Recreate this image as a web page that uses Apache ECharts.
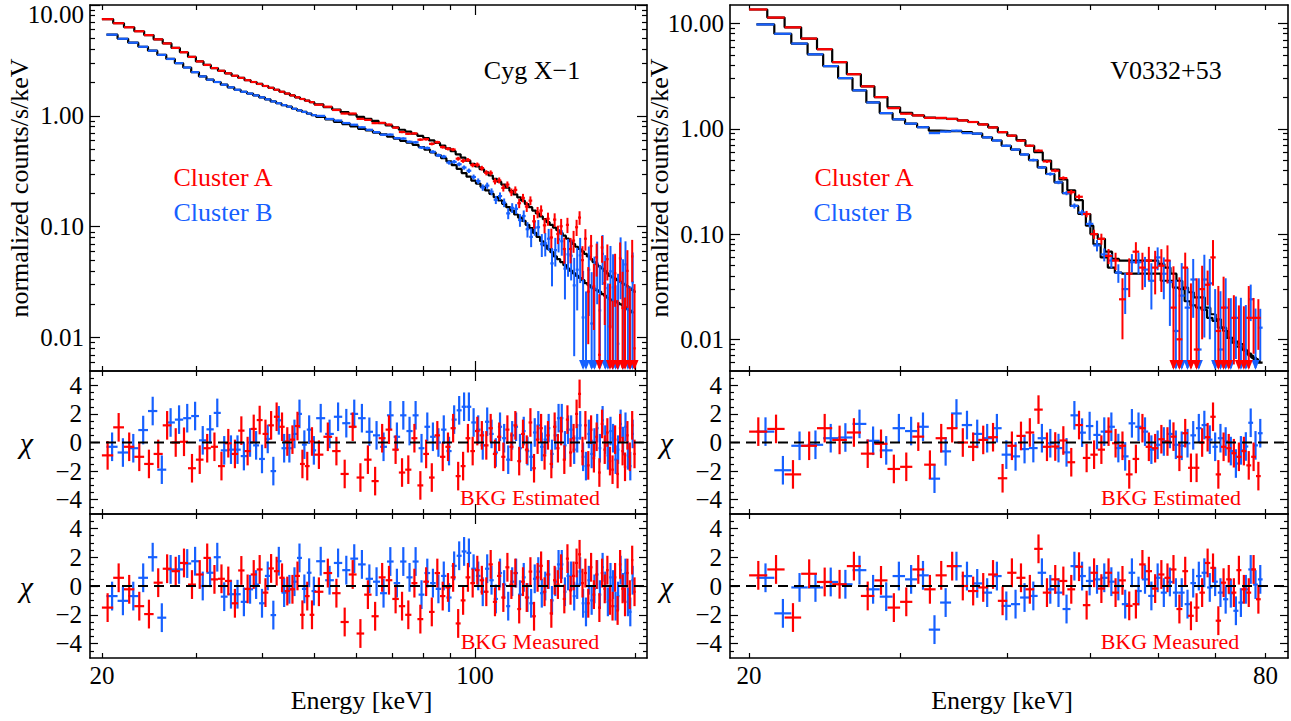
<!DOCTYPE html>
<html><head><meta charset="utf-8">
<script src="https://cdn.jsdelivr.net/npm/echarts@6/dist/echarts.min.js"></script>
<style>html,body{margin:0;padding:0;background:#fff}#c{width:1291px;height:721px}</style>
</head><body><div id="c"></div>
<script>
// ---------------- Cyg X-1 (left column) ----------------
const cygEdgesA = [20,21,22,23,24,25,26,27,28,29,30,31,32,33,34,35,36,37,38,39,40,41,42,43,44,45,46,47,48,49,50,52,54,56,58,60,62,64,66,68,70,72,74,76,78,80,82,84,86,88,90,92,94,96,98,100,102,104,106,108,110,112,114,116,118,120,122,124,126,128,130,132,134,136,138,140,142,144,146,148,150,152,154,156,158,160,162,164,166,168,170,172,174,176,178,180,182,184,186,188,190,192,194,196,198,200];
const cygEdgesB = [20.4,21.4,22.4,23.4,24.4,25.4,26.4,27.4,28.4,29.4,30.4,31.4,32.4,33.4,34.4,35.4,36.4,37.4,38.4,39.4,40.4,41.4,42.4,43.4,44.4,45.4,46.4,47.4,48.4,49.4,50.4,52.4,54.4,56.4,58.4,60.4,62.4,64.4,66.4,68.4,70.4,72.4,74.4,76.4,78.4,80.4,82.4,84.4,86.4,88.4,90.4,92.4,94.4,96.4,98.4,100.4,102.4,104.4,106.4,108.4,110.4,112.4,114.4,116.4,118.4,120.4,122.4,124.4,126.4,128.4,130.4,132.4,134.4,136.4,138.4,140.4,142.4,144.4,146.4,148.4,150.4,152.4,154.4,156.4,158.4,160.4,162.4,164.4,166.4,168.4,170.4,172.4,174.4,176.4,178.4,180.4,182.4,184.4,186.4,188.4,190.4,192.4,194.4,196.4,198.4];
const cygModelA = [7.45,6.85,6.3,5.8,5.35,4.9,4.5,4.1,3.75,3.4,3.1,2.88,2.7,2.55,2.42,2.3,2.2,2.1,2.02,1.94,1.86,1.79,1.72,1.65,1.59,1.53,1.47,1.42,1.37,1.33,
1.27,1.2,1.14,1.08,1.03,0.98,0.94,0.9,0.86,0.82,0.79,0.75,0.72,0.69,0.66,0.63,0.6,0.57,0.54,0.51,0.48,0.45,0.42,0.395,0.37,0.35,0.33,0.31,0.29,0.27,0.255,0.24,0.225,0.21,0.196,0.184,0.172,0.16,0.15,0.14,0.132,0.124,0.117,0.11,0.104,0.098,0.093,0.088,0.083,0.078,0.074,0.07,0.066,0.063,0.06,0.057,0.054,0.051,0.048,0.046,0.044,0.042,0.04,0.038,0.036,0.035,0.034,0.033,0.032,0.031,0.03,0.029,0.028,0.027,0.026];
const cygDataA = [7.45,6.85,6.3,5.8,5.35,4.9,4.5,4.1,3.75,3.4,3.1,2.88,2.7,2.55,2.42,2.3,2.2,2.1,2.02,1.94,1.86,1.79,1.72,1.65,1.59,1.53,1.47,1.42,1.37,1.33,
1.26,1.21,1.13,1.05,1.05,0.94,0.92,0.86,0.865,0.835,0.782,0.715,0.689,0.695,0.61,0.616,0.559,0.579,0.523,0.505,0.497,0.411,0.393,0.4,0.36,0.363,0.338,0.307,0.306,0.257,0.262,0.224,0.24,0.205,0.215,0.163,0.182,0.152,0.172,0.112,0.135,0.14,0.103,0.118,0.08,0.116,0.086,0.101,0.063,0.104,0.063,0.075,0.099,0.121,0.05,0.078,0.026,0.067,0.029,0.053,0.007,0.065,0.031,0.051,0.0126,0.003,0.038,0.002,0.052,0.0185,0.002,0.04,0.006,0.054,0.008];
const cygErrA = [0.004,0.004,0.004,0.004,0.004,0.004,0.004,0.004,0.004,0.004,0.005,0.005,0.005,0.005,0.005,0.005,0.005,0.005,0.005,0.005,0.007,0.007,0.007,0.007,0.007,0.007,0.007,0.007,0.007,0.007,
0.012,0.013,0.013,0.014,0.015,0.016,0.017,0.018,0.019,0.02,0.021,0.022,0.023,0.024,0.025,0.027,0.028,0.03,0.031,0.033,0.035,0.037,0.039,0.041,0.044,0.047,0.05,0.053,0.056,0.06,0.064,0.068,0.072,0.077,0.082,0.087,0.093,0.1,0.106,0.113,0.12,0.128,0.136,0.145,0.155,0.165,0.175,0.19,0.2,0.21,0.22,0.24,0.25,0.27,0.28,0.3,0.32,0.34,0.36,0.38,0.4,0.42,0.45,0.48,0.5,0.53,0.56,0.6,0.63,0.67,0.7,0.74,0.78,0.82,0.86];
const cygModelB = [5.4,4.96,4.57,4.2,3.87,3.55,3.26,2.99,2.73,2.48,2.27,2.12,2.02,1.91,1.81,1.72,1.65,1.59,1.53,1.47,1.41,1.35,1.3,1.25,1.21,1.16,1.12,1.085,1.05,1.015,
0.977,0.93,0.883,0.843,0.803,0.764,0.738,0.706,0.68,0.65,0.624,0.596,0.572,0.548,0.524,0.496,0.468,0.441,0.415,0.388,0.36,0.332,0.305,0.283,0.261,0.245,0.229,0.213,0.198,0.185,0.173,0.161,0.15,0.14,0.129,0.121,0.113,0.104,0.097,0.088,0.081,0.074,0.068,0.063,0.059,0.054,0.051,0.048,0.045,0.042,0.04,0.038,0.036,0.0345,0.033,0.031,0.0298,0.0284,0.0276,0.0267,0.0259,0.0247,0.0238,0.0229,0.022,0.0216,0.0212,0.0206,0.02,0.0194,0.0188,0.0181,0.0175,0.0169];
const cygDataB = [5.4,4.96,4.57,4.2,3.87,3.55,3.26,2.99,2.73,2.48,2.27,2.12,2.02,1.91,1.81,1.72,1.65,1.59,1.53,1.47,1.41,1.35,1.3,1.25,1.21,1.16,1.12,1.085,1.05,1.015,
1.0,0.938,0.908,0.862,0.832,0.789,0.749,0.713,0.676,0.678,0.63,0.625,0.584,0.578,0.518,0.513,0.474,0.441,0.429,0.379,0.385,0.366,0.342,0.32,0.281,0.258,0.226,0.235,0.207,0.175,0.189,0.165,0.132,0.148,0.145,0.115,0.125,0.095,0.081,0.098,0.099,0.0696,0.071,0.078,0.0467,0.0616,0.077,0.074,0.0419,0.0564,0.0548,0.0296,0.041,0.0552,0.0152,0.0013,0.041,0.0134,0.0276,0.0467,0.0176,0.057,0.028,0.0033,0.0396,0.0284,0.001,0.0088,0.0512,0.0218,0.0457,0.001,0.001,0.0316];
const cygErrB = [0.005,0.005,0.005,0.005,0.005,0.005,0.005,0.005,0.005,0.005,0.006,0.006,0.006,0.006,0.006,0.006,0.006,0.006,0.006,0.006,0.008,0.008,0.008,0.008,0.008,0.008,0.008,0.008,0.008,0.008,
0.014,0.015,0.016,0.017,0.018,0.019,0.02,0.021,0.022,0.023,0.025,0.026,0.027,0.029,0.03,0.032,0.034,0.036,0.038,0.04,0.043,0.046,0.049,0.052,0.056,0.06,0.065,0.07,0.075,0.08,0.086,0.092,0.1,0.108,0.116,0.125,0.135,0.145,0.16,0.17,0.2,0.22,0.25,0.28,0.3,0.33,0.36,0.4,0.44,0.5,0.55,0.6,0.65,0.7,0.75,0.8,0.85,0.9,0.95,1.0,1.05,1.1,1.15,1.2,1.25,1.3,1.35,1.4,1.45,1.5,1.5,1.55,1.6,1.6];
const cygChiEstA = [-0.9,1.06,-0.3,-1.0,-1.5,-0.8,1.2,0.0,0.05,-1.8,-1.2,-0.4,-0.3,-1.65,-0.05,-0.8,0.83,-0.6,0.95,1.57,0.6,1.2,1.8,1.1,0.07,0.2,1.15,-1.5,-1.65,0.07,
-0.85,0.4,-0.6,-2.2,1.1,-2.45,-1.2,-2.7,0.3,0.9,-0.5,-2.1,-1.9,0.3,-3.0,-0.8,-2.45,0.5,-1.0,-0.3,1.0,-2.35,-1.65,0.3,-0.6,0.8,0.5,-0.2,1.0,-0.8,0.4,-1.0,0.9,-0.3,1.2,-1.3,0.6,-0.5,1.4,-1.8,0.2,1.0,-0.9,0.5,-1.5,1.1,-0.4,0.8,-1.2,1.6,-0.7,0.3,2.0,3.4,-0.6,1.2,-1.6,0.9,-1.1,0.4,-2.1,1.3,-0.5,0.7,-1.3,-1.9,0.2,-2.2,1.0,-0.6,-1.7,0.5,-1.0,1.2,-0.8];
const cygChiMeasA = [-1.5,0.57,-0.23,-1.4,-1.95,0.23,1.2,1.03,1.6,0.1,0.8,1.95,0.46,0.5,0.35,-1.2,1.08,-0.2,0.8,1.15,-0.46,1.22,1.03,0.57,-0.35,-0.23,0.7,-2.0,-0.7,-2.0,
-0.4,0.9,-0.5,-2.5,0.8,-3.3,-0.6,-2.1,0.6,0.4,-0.9,-1.4,-2.0,0.2,-2.3,0.3,-1.8,0.9,-0.7,-0.1,0.6,-2.6,-1.0,0.6,0.2,1.1,0.4,-0.4,1.5,-1.1,0.7,-0.8,1.3,0.1,0.9,-1.6,0.3,-0.8,1.0,-2.1,0.6,1.4,-0.4,0.8,-1.9,0.4,0.1,1.2,-0.9,1.9,-0.3,0.7,1.6,2.2,0.2,0.9,-1.2,1.3,-0.6,0.8,-1.5,0.9,-0.2,1.1,-1.0,-1.4,0.6,-1.7,1.5,-0.2,-1.1,0.9,-0.6,1.8,-0.4];
const cygChiEstB = [-0.3,-0.7,-0.4,0.87,2.2,-1.9,1.4,1.6,1.7,1.85,0.15,0.92,2.07,-0.55,-0.5,-0.5,-0.95,0.0,-0.2,-1.15,0.25,-2.0,1.55,-0.4,-0.4,0.6,2.0,-0.15,0.9,-0.55,
1.7,0.6,1.8,1.35,2.0,1.7,0.75,0.5,-0.3,1.9,0.4,1.9,0.8,1.9,-0.4,1.1,0.4,0.0,0.9,-0.6,1.6,2.25,2.5,2.5,1.4,0.9,-0.2,1.45,0.6,-0.7,1.1,0.3,-1.2,0.5,1.1,-0.4,0.8,-0.6,-1.0,0.7,1.2,-0.3,0.2,1.0,-0.8,0.5,1.7,1.7,-0.2,0.9,0.9,-0.5,0.3,1.2,-1.0,-1.65,0.6,-0.8,0.0,1.0,-0.4,1.55,0.2,-0.9,0.8,0.3,-1.2,-0.5,1.3,0.1,1.1,-0.9,-1.65,0.6];
const cygChiMeasB = [-0.7,-1.03,-0.7,0.57,2.0,-2.2,1.15,1.15,1.56,1.72,0.0,0.92,2.0,-0.74,-0.57,-0.57,-1.1,-0.23,0.1,-1.2,0.7,-2.02,1.72,-0.46,-0.23,0.3,1.95,-0.2,0.92,-0.35,
1.72,0.4,1.6,1.1,1.9,1.5,0.5,0.3,-0.5,1.7,0.2,1.7,0.6,1.7,-0.6,0.9,0.2,-0.2,0.7,-0.8,1.4,2.1,2.4,2.3,1.2,0.7,-0.4,1.2,0.4,-0.9,0.9,0.1,-1.4,0.3,0.9,-0.6,0.6,-0.8,-1.2,0.5,1.0,-0.5,0.0,0.8,-1.0,0.3,1.5,1.5,-0.4,0.7,0.7,-0.7,0.1,1.0,-1.2,-1.8,0.4,-1.0,-0.2,0.8,-0.6,1.3,0.0,-1.1,0.6,0.1,-1.4,-0.7,1.1,-0.1,0.9,-1.1,-1.8,0.4];

// ---------------- V0332+53 (right column) ----------------
const v03EdgesA = [20,21,22,23,24,25,26,27,28,29,30,31,32,33,34,35,36,37,38,39,40,41,42,43,44,45,46,47,48,49,50,51,52,53,54,55,56,57,58,59,60,61,62,63,64,65,66,67,68,69,70,71,72,73,74,75,76,77,78,79];
const v03EdgesB = [20.4,21.4,22.4,23.4,24.4,25.4,26.4,27.4,28.4,29.4,30.4,31.4,32.4,33.4,34.4,35.4,36.4,37.4,38.4,39.4,40.4,41.4,42.4,43.4,44.4,45.4,46.4,47.4,48.4,49.4,50.4,51.4,52.4,53.4,54.4,55.4,56.4,57.4,58.4,59.4,60.4,61.4,62.4,63.4,64.4,65.4,66.4,67.4,68.4,69.4,70.4,71.4,72.4,73.4,74.4,75.4,76.4,77.4,78.4,79.4];
const v03ModelA = [13.6,11.4,9.2,7.2,5.7,4.3,3.3,2.53,2.0,1.6,1.42,1.34,1.28,1.26,1.24,1.2,1.16,1.1,1.03,0.93,0.86,0.78,0.69,0.6,0.5,0.41,0.33,0.26,0.21,0.155,0.1,0.09,0.068,0.058,0.056,0.056,0.056,0.056,0.056,0.056,0.052,0.048,0.042,0.036,0.031,0.028,0.025,0.025,0.02,0.0173,0.0155,0.0129,0.0103,0.0093,0.0085,0.008,0.0073,0.0067,0.0062];
const v03DataA = [13.6,11.4,9.2,7.2,5.7,4.3,3.3,2.53,2.0,1.57,1.39,1.34,1.27,1.27,1.24,1.2,1.16,1.1,1.03,0.93,0.86,0.77,0.69,0.62,0.49,0.4,0.34,0.25,0.226,0.155,0.1,0.09,0.062,0.056,0.024,0.042,0.068,0.048,0.056,0.048,0.05,0.056,0.02,0.01,0.048,0.006,0.008,0.03,0.033,0.06,0.012,0.02,0.004,0.016,0.004,0.003,0.016,0.016,0.016];
const v03ErrA = [0.008,0.008,0.009,0.009,0.01,0.01,0.011,0.012,0.013,0.014,0.015,0.015,0.016,0.016,0.017,0.017,0.018,0.019,0.02,0.021,0.022,0.024,0.026,0.028,0.031,0.035,0.04,0.048,0.055,0.07,0.1,0.12,0.15,0.18,0.25,0.3,0.28,0.33,0.35,0.38,0.42,0.46,0.7,0.8,0.6,1.0,1.2,0.8,0.6,1.6,1.3,1.5,2.0,1.1,2.0,2.2,2.2,1.3,1.3];
const v03ModelB = [9.8,8.0,6.45,5.1,3.94,3.03,2.32,1.78,1.41,1.23,1.12,1.035,0.96,0.95,0.95,0.93,0.9,0.83,0.774,0.69,0.635,0.57,0.505,0.43,0.372,0.31,0.245,0.185,0.155,0.12,0.08,0.06,0.048,0.043,0.042,0.042,0.042,0.042,0.042,0.042,0.036,0.036,0.031,0.03,0.023,0.021,0.02,0.019,0.016,0.015,0.0129,0.012,0.0103,0.0095,0.009,0.0078,0.007,0.0065,0.006];
const v03DataB = [9.8,8.0,6.45,5.1,3.94,3.03,2.32,1.78,1.41,1.23,1.12,1.035,0.91,0.94,0.96,0.91,0.9,0.83,0.774,0.69,0.635,0.57,0.505,0.43,0.372,0.31,0.245,0.185,0.16,0.125,0.078,0.064,0.056,0.043,0.03,0.054,0.054,0.046,0.036,0.06,0.042,0.035,0.012,0.026,0.02,0.037,0.008,0.037,0.034,0.006,0.008,0.02,0.004,0.016,0.005,0.004,0.024,0.004,0.0129];
const v03ErrB = [0.01,0.01,0.011,0.011,0.012,0.013,0.014,0.015,0.016,0.017,0.018,0.018,0.019,0.019,0.02,0.02,0.021,0.022,0.023,0.025,0.026,0.028,0.03,0.033,0.036,0.04,0.046,0.055,0.065,0.08,0.12,0.15,0.18,0.2,0.3,0.25,0.3,0.35,0.4,0.35,0.5,0.6,0.8,0.9,1.2,1.0,1.5,1.4,1.5,1.6,1.6,1.5,2.0,1.0,2.2,2.2,1.3,2.4,1.1];
const v03ChiEstA = [0.76,0.95,-2.23,-0.23,1.0,0.18,0.7,-0.78,-0.09,-1.85,-1.7,0.41,-1.55,0.3,1.0,0.0,-0.3,0.18,0.37,-2.5,-0.23,0.46,0.7,2.3,-0.3,-0.28,0.14,-1.38,1.22,-1.08,-0.85,-0.5,0.76,-0.05,-0.23,-2.23,-1.15,1.0,-0.3,-0.4,0.23,0.07,0.41,-1.0,0.65,-1.77,-1.77,0.0,0.37,1.8,-2.23,-0.3,-0.4,-0.75,-1.0,-0.6,-1.6,-1.0,-2.35];
const v03ChiMeasA = [0.74,1.15,-2.19,0.85,0.28,0.12,1.38,-0.69,0.39,-1.5,-1.1,1.15,-0.23,0.74,1.38,0,-0.35,-0.1,0.8,-1.03,0.92,0.57,-0.23,2.58,-0.46,0.46,0.35,-0.23,1.34,-1.33,0.92,-0.18,0.92,-0.46,0.39,-1.38,-1.26,1.5,1.03,-0.18,0.8,0.57,1.15,-1.6,1.03,-2.07,-1.5,-0.46,1.6,1.26,-2.41,0.23,0.46,-0.46,1.1,-0.23,-0.46,1.15,-0.92];
const v03ChiEstB = [0.76,-1.94,-0.23,-0.16,0.3,0.35,1.3,0.12,-0.55,1.0,0.8,1.1,-2.53,-0.62,2.03,1.22,0.6,0.3,1.0,-0.85,-0.97,-0.46,-0.39,0.3,-0.05,-0.39,-0.69,1.9,0.69,1.15,0.53,0.76,1.1,-0.39,-0.97,1.34,1.1,0.76,-0.5,-0.16,0.07,0.6,-0.16,-0.23,-0.05,0.5,1.0,1.22,0.2,-0.3,0.3,0.07,-0.6,-1.47,-0.55,-0.28,1.38,-0.2,0.65];
const v03ChiMeasB = [0.57,-1.9,-0.1,-0.1,0.28,0.12,1.1,-0.23,-0.74,0.69,0.46,0.74,-3.03,-1.15,1.38,0.69,0.18,-0.46,0.69,-1.38,-1.26,-0.8,-0.69,0.92,-0.23,-0.46,-1.6,1.38,0.69,0.35,0.46,0.57,0.3,0.0,-1.26,0.92,-0.35,0.46,-0.69,0.57,-0.46,0.28,-0.46,-0.46,-1.26,0.2,0.69,0.92,-0.1,0.3,-0.46,-0.92,-0.5,-1.72,-1.15,-0.23,1.15,0.1,0.46];

// ---------------- ticks / ranges ----------------
const cygXRange = [19, 210], v03XRange = [19, 85];
const cygXMinorTicks = [20,30,40,50,60,70,80,90,200], cygXMajorTicks = [100], cygXLabels = [20,100];
const v03XMinorTicks = [20,30,40,50,60,70,80], v03XLabels = [20,80];
const cygYRange = [0.005, 10], v03YRange = [0.005, 15];
const yMajorTicks = [0.01,0.1,1,10];
const yMinorTicks = [0.006,0.007,0.008,0.009,0.02,0.03,0.04,0.05,0.06,0.07,0.08,0.09,0.2,0.3,0.4,0.5,0.6,0.7,0.8,0.9,2,3,4,5,6,7,8,9];
const chiMajorTicks = [-4,-2,0,2,4];
const chiMinorTicks = [-4.5,-3.5,-3,-2.5,-1.5,-1,-0.5,0.5,1,1.5,2.5,3,3.5,4.5];
const chiLabels = [-4,-2,0,2,4];

// ---------------- build ----------------
const FONT = '"Liberation Serif","Times New Roman",serif';
const RED = '#ff0000', BLUE = '#1660ff', BLACK = '#000';
const lineLS = {color: BLACK, width: 1.6}, tickLS = {color: BLACK, width: 1.2};
const grids = [
  {left:90, top:5, width:557, height:366},
  {left:90, top:371, width:557, height:143},
  {left:90, top:514, width:557, height:144},
  {left:730, top:5, width:558, height:366},
  {left:730, top:371, width:558, height:143},
  {left:730, top:514, width:558, height:144}
].map(g => Object.assign(g, {containLabel:false, outerBoundsMode:'none'}));

const xAxes = [], yAxes = [];
const addX = o => (xAxes.push(o), xAxes.length - 1);
const addY = o => (yAxes.push(o), yAxes.length - 1);
const nameStyle = size => ({fontFamily: FONT, fontSize: size, color: BLACK});

function buildX(g, rng, minorT, majorT, labels, name) {
  let idx;
  ['bottom', 'top'].forEach(pos => {
    const show = pos === 'bottom' && labels;
    const i = addX({gridIndex: g, type: 'log', min: rng[0], max: rng[1], position: pos,
      axisLine: {show: true, onZero: false, lineStyle: lineLS},
      axisTick: {show: true, inside: true, length: 5, customValues: minorT, lineStyle: tickLS},
      axisLabel: show ? {show: true, customValues: labels, margin: 5, formatter: v => String(Math.round(v)),
        fontFamily: FONT, fontSize: 25, color: BLACK} : {show: false},
      splitLine: {show: false},
      name: show ? name : '', nameLocation: 'middle', nameGap: 29, nameMoveOverlap: false,
      nameTextStyle: Object.assign(nameStyle(26), {padding: [0, 14, 0, 0]})});
    if (pos === 'bottom') idx = i;
    if (majorT.length) addX({gridIndex: g, type: 'log', min: rng[0], max: rng[1], position: pos,
      axisLine: {show: false, onZero: false},
      axisTick: {show: true, inside: true, length: 10, customValues: majorT, lineStyle: tickLS},
      axisLabel: {show: false}, splitLine: {show: false}});
  });
  return idx;
}

function buildYLog(g, rng, labels, topLabel, name) {
  let idx;
  ['left', 'right'].forEach(pos => {
    const i = addY({gridIndex: g, type: 'log', min: rng[0], max: rng[1], position: pos,
      axisLine: {show: true, onZero: false, lineStyle: lineLS},
      axisTick: {show: true, inside: true, length: 5, customValues: yMinorTicks, lineStyle: tickLS},
      axisLabel: {show: false}, splitLine: {show: false},
      name: pos === 'left' ? name : '', nameLocation: 'middle', nameGap: 58, nameRotate: 90, nameMoveOverlap: false,
      nameTextStyle: nameStyle(26)});
    if (pos === 'left') idx = i;
    addY({gridIndex: g, type: 'log', min: rng[0], max: rng[1], position: pos,
      axisLine: {show: false, onZero: false},
      axisTick: {show: true, inside: true, length: 10, customValues: yMajorTicks, lineStyle: tickLS},
      axisLabel: pos === 'left' ? {show: true, customValues: labels, margin: 6, formatter: v => v.toFixed(2),
        fontFamily: FONT, fontSize: 25, color: BLACK} : {show: false},
      splitLine: {show: false}});
  });
  if (topLabel) addY({gridIndex: g, type: 'log', min: rng[0], max: rng[1], position: 'left',
    axisLine: {show: false, onZero: false}, axisTick: {show: false}, splitLine: {show: false},
    axisLabel: {show: true, customValues: topLabel, margin: 6, formatter: v => v.toFixed(2), verticalAlign: 'top',
      lineHeight: 18, fontFamily: FONT, fontSize: 25, color: BLACK}});
  return idx;
}

function buildYChi(g) {
  let idx;
  ['left', 'right'].forEach(pos => {
    const i = addY({gridIndex: g, type: 'value', min: -5, max: 5, position: pos,
      axisLine: {show: true, onZero: false, lineStyle: lineLS},
      axisTick: {show: true, inside: true, length: 4, customValues: chiMinorTicks, lineStyle: tickLS},
      axisLabel: {show: false}, splitLine: {show: false},
      name: pos === 'left' ? '\u03c7' : '', nameLocation: 'middle', nameGap: 57, nameRotate: 0, nameMoveOverlap: false,
      nameTextStyle: Object.assign(nameStyle(30), {fontStyle: 'italic'})});
    if (pos === 'left') idx = i;
    addY({gridIndex: g, type: 'value', min: -5, max: 5, position: pos,
      axisLine: {show: false, onZero: false},
      axisTick: {show: true, inside: true, length: 8, customValues: chiMajorTicks, lineStyle: tickLS},
      axisLabel: pos === 'left' ? {show: true, customValues: chiLabels, margin: 8,
        formatter: v => String(v).replace('-', '\u2212'), fontFamily: FONT, fontSize: 25, color: BLACK} : {show: false},
      splitLine: {show: false}});
  });
  return idx;
}

const rows = (edges, vals, errs, model) => vals.map((v, i) => [edges[i], edges[i + 1], v, errs ? errs[i] * model[i] : 0]);
function stepPts(edges, model) {
  const pts = [];
  model.forEach((m, i) => { pts.push([edges[i], m]); pts.push([edges[i + 1], m]); });
  return pts;
}

function specRender(color, ymin) {
  return function (params, api) {
    const lo = api.value(0), hi = api.value(1), v = api.value(2), e = api.value(3);
    const cs = params.coordSys, yb = cs.y + cs.height;
    const xc = api.coord([(lo + hi) / 2, v + e])[0];
    const yUp = api.coord([(lo + hi) / 2, v + e])[1];
    const arrow = (v - e) <= ymin;
    const yLow = arrow ? yb - 3 : api.coord([(lo + hi) / 2, v - e])[1];
    const ch = [{type: 'line', shape: {x1: xc, y1: yUp, x2: xc, y2: yLow}, style: {stroke: color, lineWidth: 2}}];
    if (v > ymin) {
      const a = api.coord([lo, v]), b = api.coord([hi, v]);
      ch.push({type: 'line', shape: {x1: a[0], y1: a[1], x2: b[0], y2: b[1]}, style: {stroke: color, lineWidth: 2.2}});
    }
    if (arrow) ch.push({type: 'polygon', shape: {points: [[xc - 4, yb - 11], [xc + 4, yb - 11], [xc, yb - 1]]}, style: {fill: color}});
    return {type: 'group', children: ch};
  };
}
function resRender(color) {
  return function (params, api) {
    const lo = api.value(0), hi = api.value(1), v = api.value(2), xm = (lo + hi) / 2;
    const a = api.coord([lo, v]), b = api.coord([hi, v]), t = api.coord([xm, v + 1]), u = api.coord([xm, v - 1]);
    return {type: 'group', children: [
      {type: 'line', shape: {x1: a[0], y1: a[1], x2: b[0], y2: b[1]}, style: {stroke: color, lineWidth: 2.2}},
      {type: 'line', shape: {x1: t[0], y1: t[1], x2: u[0], y2: u[1]}, style: {stroke: color, lineWidth: 2.2}}]};
  };
}

const series = [];
function panelTop(g, xr, yr, xMinor, xMajor, edgesA, edgesB, modelA, modelB, dataA, dataB, errA, errB, topLabel) {
  const xi = buildX(g, xr, xMinor, xMajor, null, '');
  const yi = buildYLog(g, yr, topLabel ? [0.01, 0.1, 1] : [0.01, 0.1, 1, 10], topLabel, 'normalized counts/s/keV');
  [[edgesA, modelA], [edgesB, modelB]].forEach(([ed, m]) => series.push({type: 'line', xAxisIndex: xi, yAxisIndex: yi,
    data: stepPts(ed, m), showSymbol: false, symbol: 'none', lineStyle: {color: BLACK, width: 2.2}, z: 2, silent: true}));
  series.push({type: 'custom', xAxisIndex: xi, yAxisIndex: yi, clip: true, z: 3, silent: true,
    encode: {x: [0, 1], y: 2}, renderItem: specRender(BLUE, yr[0]), data: rows(edgesB, dataB, errB, modelB)});
  series.push({type: 'custom', xAxisIndex: xi, yAxisIndex: yi, clip: true, z: 4, silent: true,
    encode: {x: [0, 1], y: 2}, renderItem: specRender(RED, yr[0]), data: rows(edgesA, dataA, errA, modelA)});
}
function panelRes(g, xr, xMinor, xMajor, labels, edgesA, edgesB, chiA, chiB) {
  const xi = buildX(g, xr, xMinor, xMajor, labels, 'Energy [keV]');
  const yi = buildYChi(g);
  series.push({type: 'custom', xAxisIndex: xi, yAxisIndex: yi, clip: true, z: 3, silent: true,
    encode: {x: [0, 1], y: 2}, renderItem: resRender(BLUE), data: rows(edgesB, chiB)});
  series.push({type: 'custom', xAxisIndex: xi, yAxisIndex: yi, clip: true, z: 4, silent: true,
    encode: {x: [0, 1], y: 2}, renderItem: resRender(RED), data: rows(edgesA, chiA)});
  series.push({type: 'line', xAxisIndex: xi, yAxisIndex: yi, data: [[xr[0], 0], [xr[1], 0]], showSymbol: false, symbol: 'none',
    lineStyle: {color: BLACK, width: 1.8, type: [10, 6]}, z: 5, silent: true});
}

panelTop(0, cygXRange, cygYRange, cygXMinorTicks, cygXMajorTicks, cygEdgesA, cygEdgesB, cygModelA, cygModelB, cygDataA, cygDataB, cygErrA, cygErrB, [10]);
panelRes(1, cygXRange, cygXMinorTicks, cygXMajorTicks, null, cygEdgesA, cygEdgesB, cygChiEstA, cygChiEstB);
panelRes(2, cygXRange, cygXMinorTicks, cygXMajorTicks, cygXLabels, cygEdgesA, cygEdgesB, cygChiMeasA, cygChiMeasB);
panelTop(3, v03XRange, v03YRange, v03XMinorTicks, [], v03EdgesA, v03EdgesB, v03ModelA, v03ModelB, v03DataA, v03DataB, v03ErrA, v03ErrB, null);
panelRes(4, v03XRange, v03XMinorTicks, [], null, v03EdgesA, v03EdgesB, v03ChiEstA, v03ChiEstB);
panelRes(5, v03XRange, v03XMinorTicks, [], v03XLabels, v03EdgesA, v03EdgesB, v03ChiMeasA, v03ChiMeasB);

function txt(text, x, y, size, color) {
  return {type: 'text', x: x, y: y, z: 100, silent: true,
    style: {text: text, fill: color, fontFamily: FONT, fontSize: size, align: 'center', verticalAlign: 'middle',
      textAlign: 'center', textVerticalAlign: 'middle'}};
}
const graphic = [
  txt('Cyg X\u22121', 532, 70, 26, BLACK),
  txt('V0332+53', 1166, 70, 26, BLACK),
  txt('Cluster A', 223, 177, 26, RED),
  txt('Cluster B', 223, 212, 26, BLUE),
  txt('Cluster A', 864, 177, 26, RED),
  txt('Cluster B', 863, 212, 26, BLUE),
  txt('BKG Estimated', 530, 497, 22, RED),
  txt('BKG Measured', 530, 641, 22, RED),
  txt('BKG Estimated', 1171, 497, 22, RED),
  txt('BKG Measured', 1170, 641, 22, RED)
];

const chart = echarts.init(document.getElementById('c'), null, {renderer: 'svg'});
chart.setOption({
  animation: false, backgroundColor: '#fff',
  textStyle: {fontFamily: FONT},
  grid: grids, xAxis: xAxes, yAxis: yAxes, series: series, graphic: graphic
});
</script></body></html>
